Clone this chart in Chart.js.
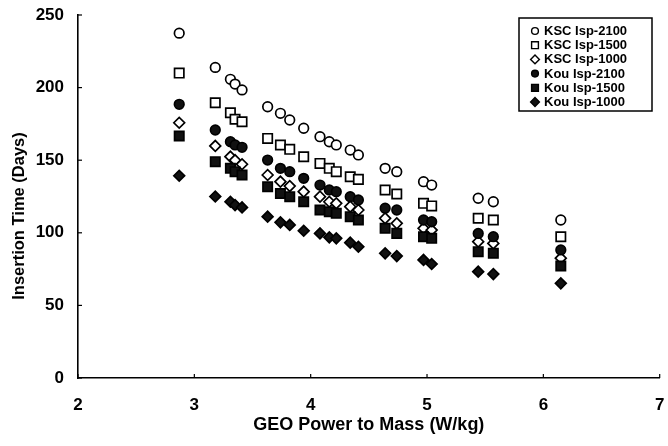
<!DOCTYPE html>
<html>
<head>
<meta charset="utf-8">
<script src="https://cdn.jsdelivr.net/npm/chart.js@4.4.1/dist/chart.umd.min.js"></script>
<style>
  body { margin: 0; background: #fff; }
</style>
</head>
<body>
<canvas id="chart" width="668" height="446"></canvas>
<script>
// GEO power to mass (W/kg), one column of points per value
var powerToMass = [2.87, 3.18, 3.31, 3.35, 3.41, 3.63, 3.74, 3.82, 3.94, 4.08, 4.16,
                   4.22, 4.34, 4.41, 4.64, 4.74, 4.97, 5.04, 5.44, 5.57, 6.15];

// insertion time (days)
var kscIsp2100 = [237.5, 213.9, 205.7, 202.4, 198.4, 186.8, 182.3, 177.7, 172.0, 166.2, 162.7,
                  160.5, 157.0, 153.6, 144.4, 142.1, 135.2, 132.9, 123.8, 121.4, 108.8];
var kscIsp1500 = [210.0, 189.6, 182.7, 178.2, 176.5, 165.0, 160.5, 157.5, 152.4, 147.8, 144.4,
                  142.1, 138.6, 136.8, 129.5, 126.7, 120.3, 118.5, 110.0, 108.8, 97.3];
var kscIsp1000 = [175.8, 159.8, 152.4, 150.0, 147.2, 139.8, 135.2, 132.2, 128.3, 124.9, 121.4,
                  120.3, 118.0, 115.7, 110.0, 106.5, 103.1, 101.9, 93.9, 92.7, 82.5];
var kouIsp2100 = [188.5, 170.8, 162.7, 160.5, 158.9, 150.1, 144.4, 142.1, 137.5, 132.9, 129.5,
                  128.3, 124.9, 122.6, 116.9, 115.7, 108.8, 107.6, 99.6, 97.3, 88.2];
var kouIsp1500 = [166.7, 149.0, 144.4, 142.1, 139.8, 131.7, 127.1, 124.9, 121.4, 115.7, 114.5,
                  113.4, 111.1, 108.8, 103.1, 99.6, 97.3, 96.2, 87.0, 85.9, 77.1];
var kouIsp1000 = [139.3, 125.0, 121.4, 119.1, 117.5, 111.1, 107.2, 105.4, 101.4, 99.6, 96.9,
                  96.2, 93.2, 90.4, 85.9, 84.0, 81.3, 78.5, 73.2, 71.6, 65.2];

var seriesNames = ['KSC Isp-2100', 'KSC Isp-1500', 'KSC Isp-1000',
                   'Kou Isp-2100', 'Kou Isp-1500', 'Kou Isp-1000'];
var xTickValues = [2, 3, 4, 5, 6, 7];
var yTickValues = [0, 50, 100, 150, 200, 250];

var FONT = '"Liberation Sans", Arial, Helvetica, sans-serif';

var styles = [
    { shape: 'circle', radius: 4.8, fill: '#fff' },
    { shape: 'rect', radius: 6.6, fill: '#fff' },
    { shape: 'rectRot', radius: 5.4, fill: '#fff' },
    { shape: 'circle', radius: 4.8, fill: '#111' },
    { shape: 'rect', radius: 6.6, fill: '#111' },
    { shape: 'rectRot', radius: 5.4, fill: '#111' }
];

var toPoints = function (values) {
    return powerToMass.map(function (x, i) {
        return { x: x, y: values[i] };
    });
};

var seriesValues = [kscIsp2100, kscIsp1500, kscIsp1000, kouIsp2100, kouIsp1500, kouIsp1000];
var datasets = [];
for (var s = 0; s < seriesValues.length; s++) {
    datasets.push({
        label: seriesNames[s],
        data: toPoints(seriesValues[s]),
        order: seriesValues.length - s, // later series drawn on top
        showLine: false,
        pointStyle: styles[s].shape,
        pointRadius: styles[s].radius,
        pointBackgroundColor: styles[s].fill,
        pointBorderColor: '#000',
        pointBorderWidth: 1.7
    });
}

// small marker for the legend box
var drawMarker = function (ctx, style, x, y, r) {
    ctx.beginPath();
    if (style.shape === 'circle') {
        ctx.arc(x, y, r, 0, Math.PI * 2);
    } else if (style.shape === 'rect') {
        ctx.rect(x - r, y - r, r * 2, r * 2);
    } else {
        ctx.moveTo(x - r - 1, y);
        ctx.lineTo(x, y - r - 1);
        ctx.lineTo(x + r + 1, y);
        ctx.lineTo(x, y + r + 1);
        ctx.closePath();
    }
    ctx.fillStyle = style.fill;
    ctx.fill();
    ctx.lineWidth = 1.4;
    ctx.strokeStyle = '#000';
    ctx.stroke();
};

var decorPlugin = {
    id: 'decor',
    afterDraw: function (chart) {
        var ctx = chart.ctx;
        var xs = chart.scales.x;
        var ys = chart.scales.y;
        var area = chart.chartArea;
        ctx.save();

        // inside tick marks
        ctx.strokeStyle = '#000';
        ctx.lineWidth = 1.2;
        xTickValues.forEach(function (v) {
            var px = xs.getPixelForValue(v);
            ctx.beginPath();
            ctx.moveTo(px, area.bottom);
            ctx.lineTo(px, area.bottom - 4);
            ctx.stroke();
        });
        yTickValues.forEach(function (v) {
            var py = ys.getPixelForValue(v);
            ctx.beginPath();
            ctx.moveTo(area.left, py);
            ctx.lineTo(area.left + 4, py);
            ctx.stroke();
        });

        // y axis title (sits a bit below the axis centre)
        ctx.save();
        ctx.translate(19, 216);
        ctx.rotate(-Math.PI / 2);
        ctx.font = 'bold 16.5px ' + FONT;
        ctx.fillStyle = '#000';
        ctx.textAlign = 'center';
        ctx.textBaseline = 'middle';
        ctx.fillText('Insertion Time (Days)', 0, 0);
        ctx.restore();

        // legend box
        var boxX = 519, boxY = 18, boxW = 133, boxH = 93;
        ctx.fillStyle = '#fff';
        ctx.fillRect(boxX, boxY, boxW, boxH);
        ctx.lineWidth = 1.5;
        ctx.strokeRect(boxX, boxY, boxW, boxH);
        ctx.font = 'bold 13px ' + FONT;
        ctx.textAlign = 'left';
        ctx.textBaseline = 'middle';
        for (var i = 0; i < seriesNames.length; i++) {
            var rowY = boxY + 13 + i * 14.2;
            drawMarker(ctx, styles[i], 535, rowY, 3.4);
            ctx.fillStyle = '#000';
            ctx.fillText(seriesNames[i], 544, rowY + 0.5);
        }
        ctx.restore();
    }
};

new Chart(document.getElementById('chart'), {
    type: 'scatter',
    data: { datasets: datasets },
    options: {
        responsive: false,
        animation: false,
        devicePixelRatio: 1,
        layout: { padding: { top: 15, right: 8, left: 0, bottom: 0 } },
        plugins: {
            legend: { display: false },
            tooltip: { enabled: false }
        },
        scales: {
            x: {
                type: 'linear',
                min: 2,
                max: 7,
                afterBuildTicks: function (scale) {
                    scale.ticks = xTickValues.map(function (v) { return { value: v }; });
                },
                afterFit: function (scale) {
                    scale.height = 68;
                    scale.paddingLeft = 0;
                    scale.paddingRight = 0;
                },
                grid: { display: false, drawTicks: false },
                border: { display: true, color: '#000', width: 1.6 },
                ticks: {
                    padding: 17,
                    color: '#000',
                    font: { family: FONT, size: 17, weight: 'bold' },
                    maxRotation: 0
                },
                title: {
                    display: true,
                    text: 'GEO Power to Mass (W/kg)',
                    color: '#000',
                    font: { family: FONT, size: 18, weight: 'bold' },
                    padding: { top: 0, bottom: 10 }
                }
            },
            y: {
                type: 'linear',
                min: 0,
                max: 250,
                afterBuildTicks: function (scale) {
                    scale.ticks = yTickValues.map(function (v) { return { value: v }; });
                },
                afterFit: function (scale) {
                    scale.width = 78;
                    scale.paddingTop = 0;
                    scale.paddingBottom = 0;
                },
                grid: { display: false, drawTicks: false },
                border: { display: true, color: '#000', width: 1.6 },
                ticks: {
                    padding: 14,
                    color: '#000',
                    font: { family: FONT, size: 17, weight: 'bold' }
                }
            }
        }
    },
    plugins: [decorPlugin]
});
</script>
</body>
</html>
